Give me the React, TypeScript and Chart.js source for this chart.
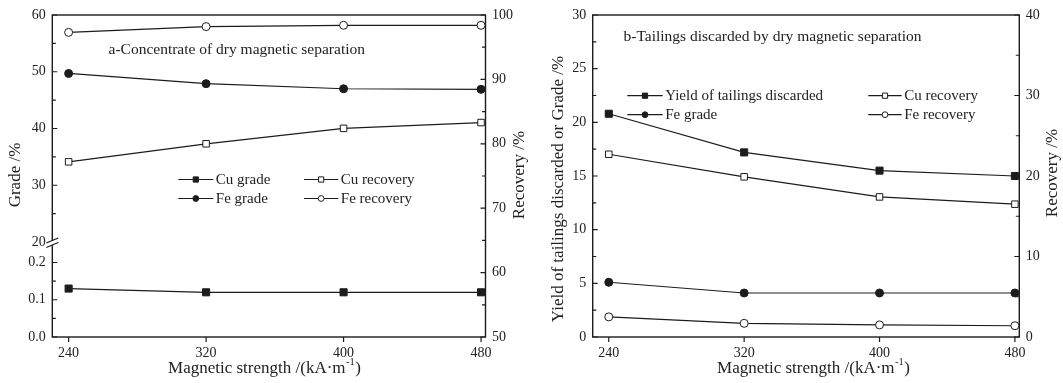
import React, { useEffect, useRef } from 'react';
import { Chart, registerables } from 'chart.js';

Chart.register(...registerables);

// ---------- data ----------
const X_VALUES = [240, 320, 400, 480];
const X_TICKS = [240, 320, 400, 480];

// panel a - concentrate
const A_CU_GRADE = [0.13, 0.12, 0.12, 0.12];
const A_CU_RECOVERY = [77.2, 80.0, 82.4, 83.3];
const A_FE_GRADE = [49.7, 47.9, 47.0, 46.9];
const A_FE_RECOVERY = [97.3, 98.2, 98.4, 98.4];
const A_GRADE_UPPER_TICKS = [20, 30, 40, 50, 60];
const A_GRADE_LOWER_TICKS = [0, 0.1, 0.2];
const A_RECOVERY_TICKS = [50, 60, 70, 80, 90, 100];

// panel b - tailings
const B_YIELD = [20.8, 17.2, 15.5, 15.0];
const B_CU_RECOVERY = [22.7, 19.9, 17.4, 16.5];
const B_FE_GRADE = [5.1, 4.1, 4.1, 4.1];
const B_FE_RECOVERY = [2.5, 1.7, 1.5, 1.4];
const B_LEFT_TICKS = [0, 5, 10, 15, 20, 25, 30];
const B_RIGHT_TICKS = [0, 10, 20, 30, 40];

// ---------- text ----------
const A_LABELS = ['Cu grade', 'Cu recovery', 'Fe grade', 'Fe recovery'];
const B_LABELS = ['Yield of tailings discarded', 'Cu recovery', 'Fe grade', 'Fe recovery'];
const A_NOTE = 'a-Concentrate of dry magnetic separation';
const B_NOTE = 'b-Tailings discarded by dry magnetic separation';
const A_LEFT_TITLE = 'Grade /%';
const B_LEFT_TITLE = 'Yield of tailings discarded or Grade /%';
const RIGHT_TITLE = 'Recovery /%';
const X_TITLE_MAIN = 'Magnetic strength /(kA\u00b7m';
const X_TITLE_SUP = '-1';
const X_TITLE_END = ')';

const FONT = '"Liberation Serif", "Times New Roman", serif';
const INK = '#1c1c1c';
const TEXT = '#222';
const H = 383;

function series(label: string, values: number[], axis: string, style: string, filled: boolean) {
  return {
    label,
    data: values.map((v, i) => ({ x: X_VALUES[i], y: v })),
    yAxisID: axis,
    borderColor: INK,
    borderWidth: 1.2,
    pointStyle: style,
    pointRadius: style === 'rect' ? (filled ? 5 : 4.6) : 4,
    pointBackgroundColor: filled ? INK : '#fff',
    pointBorderColor: INK,
    pointBorderWidth: 1,
    tension: 0,
    fill: false,
    clip: false,
  };
}

function xScale(height: number) {
  return {
    type: 'linear',
    min: 230.5,
    max: 482.6,
    afterBuildTicks: (s: any) => { s.ticks = X_TICKS.map((v) => ({ value: v })); },
    afterFit: (s: any) => { s.height = height; },
    grid: { display: false, drawTicks: false },
    border: { display: false },
    ticks: {
      padding: 8, color: TEXT, font: { family: FONT, size: 14 },
      autoSkip: false, maxRotation: 0, callback: (v: any) => String(v),
    },
  };
}

function yScale(position: string, min: number, max: number, ticks: number[], width: number, fmt: (v: number) => string, extra: any = {}) {
  return {
    type: 'linear',
    position,
    min,
    max,
    afterBuildTicks: (s: any) => { s.ticks = ticks.map((v) => ({ value: v })); },
    afterFit: (s: any) => { s.width = width; },
    grid: { display: false, drawTicks: false },
    border: { display: false },
    ticks: {
      padding: 6.5, color: TEXT, font: { family: FONT, size: 14 },
      autoSkip: false, maxRotation: 0, callback: (v: any) => fmt(Number(v)),
    },
    ...extra,
  };
}

type TextItem = { parts: { t: string; sup?: boolean }[]; x: number; y: number; rot?: boolean; size: number; align: 'left' | 'center' };

function drawRich(ctx: CanvasRenderingContext2D, item: TextItem) {
  ctx.save();
  ctx.translate(item.x, item.y);
  if (item.rot) ctx.rotate(-Math.PI / 2);
  ctx.fillStyle = TEXT;
  ctx.textBaseline = 'middle';
  ctx.textAlign = 'left';
  const widths = item.parts.map((p) => {
    ctx.font = `${p.sup ? item.size * 0.62 : item.size}px ${FONT}`;
    return ctx.measureText(p.t).width;
  });
  const total = widths.reduce((a, b) => a + b, 0);
  let x = item.align === 'center' ? -total / 2 : 0;
  item.parts.forEach((p, i) => {
    ctx.font = `${p.sup ? item.size * 0.62 : item.size}px ${FONT}`;
    ctx.fillText(p.t, x + (p.sup ? 0.5 : 0), p.sup ? -item.size * 0.38 : 0);
    x += widths[i] + (p.sup ? 1 : 0);
  });
  ctx.restore();
}

function decor(cfg: any) {
  return {
    id: 'decor',
    beforeDatasetsDraw(chart: any) {
      const ctx: CanvasRenderingContext2D = chart.ctx;
      const a = chart.chartArea;
      ctx.save();
      ctx.strokeStyle = INK;
      ctx.lineWidth = 1.4;
      ctx.strokeRect(a.left, a.top, a.right - a.left, a.bottom - a.top);
      ctx.lineWidth = 1.2;
      for (const id of cfg.yAxes) {
        const s = chart.scales[id];
        const isLeft = s.position === 'left';
        const x0 = isLeft ? a.left : a.right;
        const dir = isLeft ? 1 : -1;
        const vals = s.ticks.map((t: any) => t.value);
        ctx.beginPath();
        vals.forEach((v: number) => {
          const y = s.getPixelForValue(v);
          ctx.moveTo(x0, y); ctx.lineTo(x0 + dir * 5, y);
        });
        for (let i = 0; i < vals.length - 1; i++) {
          const y = s.getPixelForValue((vals[i] + vals[i + 1]) / 2);
          ctx.moveTo(x0, y); ctx.lineTo(x0 + dir * 3.5, y);
        }
        ctx.stroke();
      }
      const xs = chart.scales.x;
      ctx.beginPath();
      xs.ticks.forEach((t: any) => {
        const x = xs.getPixelForValue(t.value);
        ctx.moveTo(x, a.bottom); ctx.lineTo(x, a.bottom + 5);
      });
      ctx.stroke();
      if (cfg.breakAxis) {
        const s = chart.scales[cfg.breakAxis];
        const b = s.getPixelForValue(s.max);
        const L = a.left;
        ctx.fillStyle = '#fff';
        ctx.beginPath();
        ctx.moveTo(L - 6, b + 1); ctx.lineTo(L + 6, b - 4); ctx.lineTo(L + 6, b + 0.5); ctx.lineTo(L - 6, b + 5.5);
        ctx.closePath();
        ctx.fill();
        ctx.beginPath();
        ctx.moveTo(L - 6, b + 1); ctx.lineTo(L + 6, b - 4);
        ctx.moveTo(L - 6, b + 5.5); ctx.lineTo(L + 6, b + 0.5);
        ctx.stroke();
      }
      ctx.restore();
    },
    afterDraw(chart: any) {
      const ctx: CanvasRenderingContext2D = chart.ctx;
      ctx.save();
      const lg = cfg.legend;
      chart.data.datasets.forEach((ds: any, i: number) => {
        const col = lg.cols[i % 2];
        const y = lg.rows[Math.floor(i / 2)];
        ctx.strokeStyle = INK;
        ctx.lineWidth = 1.2;
        ctx.beginPath();
        ctx.moveTo(col.x0, y); ctx.lineTo(col.x1, y);
        ctx.stroke();
        const cx = (col.x0 + col.x1) / 2;
        ctx.fillStyle = ds.pointBackgroundColor;
        ctx.lineWidth = 1;
        ctx.beginPath();
        if (ds.pointStyle === 'rect') ctx.rect(cx - 2.6, y - 2.6, 5.2, 5.2);
        else ctx.arc(cx, y, 2.9, 0, Math.PI * 2);
        ctx.fill();
        ctx.stroke();
        ctx.fillStyle = TEXT;
        ctx.font = `15px ${FONT}`;
        ctx.textAlign = 'left';
        ctx.textBaseline = 'middle';
        ctx.fillText(ds.label, col.x1 + 2.5, y + 0.5);
      });
      ctx.restore();
      cfg.texts.forEach((t: TextItem) => drawRich(ctx, t));
    },
  };
}

function xTitle(cx: number): TextItem {
  return {
    parts: [{ t: X_TITLE_MAIN }, { t: X_TITLE_SUP, sup: true }, { t: X_TITLE_END }],
    x: cx, y: 369, size: 17, align: 'center',
  };
}

function buildA(): any {
  return {
    type: 'line',
    data: {
      datasets: [
        series(A_LABELS[0], A_CU_GRADE, 'yLow', 'rect', true),
        series(A_LABELS[1], A_CU_RECOVERY, 'yR', 'rect', false),
        series(A_LABELS[2], A_FE_GRADE, 'yUp', 'circle', true),
        series(A_LABELS[3], A_FE_RECOVERY, 'yR', 'circle', false),
      ],
    },
    options: {
      animation: false,
      responsive: false,
      devicePixelRatio: 1,
      layout: { padding: { top: 15, left: 0, right: 0, bottom: 0 } },
      plugins: { legend: { display: false }, tooltip: { enabled: false } },
      scales: {
        x: xScale(46),
        yLow: yScale('left', 0, 0.255, A_GRADE_LOWER_TICKS, 52.3, (v) => v.toFixed(1), { stack: 'grade', stackWeight: 95 }),
        yUp: yScale('left', 20, 60, A_GRADE_UPPER_TICKS, 52.3, (v) => String(v), { stack: 'grade', stackWeight: 227 }),
        yR: yScale('right', 50, 100, A_RECOVERY_TICKS, 45.5, (v) => String(v)),
      },
    },
    plugins: [
      decor({
        yAxes: ['yLow', 'yUp', 'yR'],
        breakAxis: 'yLow',
        legend: { rows: [179.5, 198.5], cols: [{ x0: 178.3, x1: 213.3 }, { x0: 304, x1: 338.3 }] },
        texts: [
          { parts: [{ t: A_NOTE }], x: 108.5, y: 49.5, size: 15.5, align: 'left' },
          { parts: [{ t: A_LEFT_TITLE }], x: 15.5, y: 175, rot: true, size: 17, align: 'center' },
          { parts: [{ t: RIGHT_TITLE }], x: 520, y: 175, rot: true, size: 17, align: 'center' },
          xTitle(264),
        ],
      }),
    ],
  };
}

function buildB(): any {
  return {
    type: 'line',
    data: {
      datasets: [
        series(B_LABELS[0], B_YIELD, 'yL', 'rect', true),
        series(B_LABELS[1], B_CU_RECOVERY, 'yR', 'rect', false),
        series(B_LABELS[2], B_FE_GRADE, 'yL', 'circle', true),
        series(B_LABELS[3], B_FE_RECOVERY, 'yR', 'circle', false),
      ],
    },
    options: {
      animation: false,
      responsive: false,
      devicePixelRatio: 1,
      layout: { padding: { top: 15, left: 0, right: 0, bottom: 0 } },
      plugins: { legend: { display: false }, tooltip: { enabled: false } },
      scales: {
        x: xScale(46),
        yL: yScale('left', 0, 30, B_LEFT_TICKS, 61.7, (v) => String(v)),
        yR: yScale('right', 0, 40, B_RIGHT_TICKS, 43.7, (v) => String(v)),
      },
    },
    plugins: [
      decor({
        yAxes: ['yL', 'yR'],
        legend: { rows: [95.7, 114.7], cols: [{ x0: 96.3, x1: 131.7 }, { x0: 337.3, x1: 370.7 }] },
        texts: [
          { parts: [{ t: B_NOTE }], x: 92.5, y: 36.7, size: 15.5, align: 'left' },
          { parts: [{ t: B_LEFT_TITLE }], x: 28, y: 189, rot: true, size: 17, align: 'center' },
          { parts: [{ t: RIGHT_TITLE }], x: 522, y: 173, rot: true, size: 17, align: 'center' },
          xTitle(282),
        ],
      }),
    ],
  };
}

function Panel({ left, width, build }: { left: number; width: number; build: () => any }) {
  const ref = useRef<HTMLCanvasElement>(null);
  useEffect(() => {
    const chart = new Chart(ref.current as HTMLCanvasElement, build());
    return () => chart.destroy();
  }, []);
  return (
    <canvas
      ref={ref}
      width={width}
      height={H}
      style={{ position: 'absolute', left, top: 0, width, height: H, display: 'block' }}
    />
  );
}

export default function App() {
  return (
    <div style={{ position: 'absolute', left: 0, top: 0, width: 1063, height: H, background: '#fff', overflow: 'hidden' }}>
      <Panel left={0} width={531} build={buildA} />
      <Panel left={531} width={532} build={buildB} />
    </div>
  );
}
